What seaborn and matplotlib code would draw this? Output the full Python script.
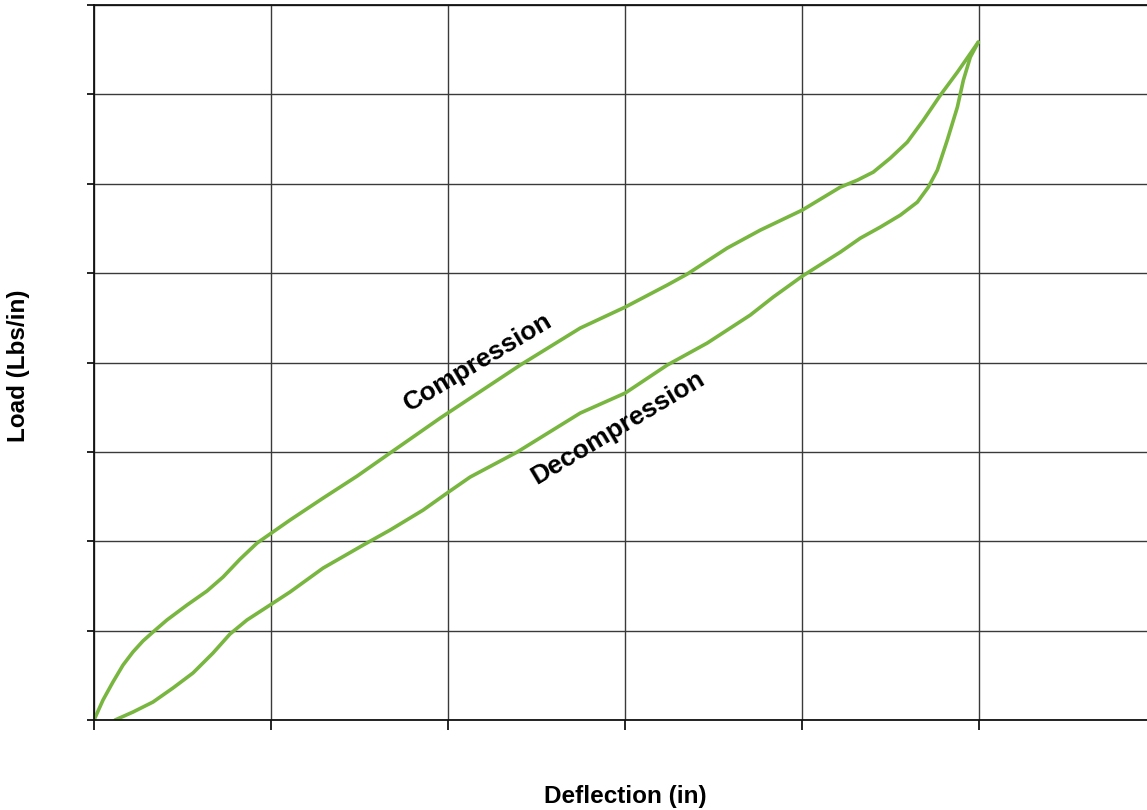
import matplotlib
matplotlib.use("Agg")
import matplotlib.pyplot as plt
import seaborn as sns
import pandas as pd

# Load-deflection hysteresis loop (deflection in inches, load in lbs/in)
compression_x = [0.000, 0.051, 0.107, 0.164, 0.220, 0.277, 0.333, 0.412, 0.525, 0.638,
                 0.729, 0.825, 0.921, 1.107, 1.294, 1.486, 1.672, 1.955, 2.407, 2.746,
                 3.000, 3.237, 3.350, 3.576, 3.763, 4.000, 4.215, 4.311, 4.401, 4.497,
                 4.593, 4.684, 4.780, 4.876, 4.994]
compression_y = [0.000, 0.224, 0.425, 0.615, 0.761, 0.885, 0.984, 1.119, 1.286, 1.443,
                 1.600, 1.800, 1.980, 2.237, 2.483, 2.729, 2.987, 3.378, 3.971, 4.385,
                 4.620, 4.866, 4.989, 5.280, 5.481, 5.705, 5.962, 6.040, 6.130, 6.286,
                 6.465, 6.711, 6.991, 7.248, 7.584]

decompression_x = [0.119, 0.220, 0.333, 0.446, 0.559, 0.672, 0.768, 0.864, 0.994, 1.107,
                   1.294, 1.520, 1.672, 1.859, 1.994, 2.124, 2.390, 2.746, 3.000, 3.237,
                   3.463, 3.706, 3.836, 4.000, 4.215, 4.328, 4.441, 4.554, 4.650, 4.712,
                   4.763, 4.819, 4.876, 4.910, 4.949, 4.994]
decompression_y = [0.000, 0.089, 0.201, 0.358, 0.526, 0.749, 0.962, 1.119, 1.286, 1.432,
                   1.700, 1.957, 2.125, 2.349, 2.539, 2.718, 2.998, 3.434, 3.658, 3.971,
                   4.217, 4.530, 4.732, 4.966, 5.235, 5.391, 5.515, 5.649, 5.794, 5.962,
                   6.152, 6.488, 6.857, 7.159, 7.416, 7.584]

x_ticks = [0, 1, 2, 3, 4, 5]
y_ticks = [0, 1, 2, 3, 4, 5, 6, 7, 8]

curve_labels = ["Compression", "Decompression"]
label_pos = [(2.17, 4.00), (2.96, 3.27)]

GREEN = "#78b640"
GRID = "#3a3a3a"

sns.set_theme(style="white")
plt.rcParams["font.family"] = ["Liberation Sans", "DejaVu Sans"]

fig = plt.figure(figsize=(11.47, 8.10), dpi=100)
ax = fig.add_axes([94 / 1147, 90 / 810, 1 - 94 / 1147 + 0.002, 715 / 810])

comp = pd.DataFrame({"x": compression_x, "y": compression_y})
decomp = pd.DataFrame({"x": decompression_x, "y": decompression_y})
for df in (comp, decomp):
    sns.lineplot(data=df, x="x", y="y", sort=False, ax=ax, color=GREEN, lw=2.6,
                 solid_capstyle="round", solid_joinstyle="round")

ax.set_xlim(0, 5.96)
ax.set_ylim(0, 8)
ax.set_xticks(x_ticks)
ax.set_yticks(y_ticks)
ax.set_xticklabels([])
ax.set_yticklabels([])
ax.set_xlabel("")
ax.set_ylabel("")
ax.grid(True, color=GRID, lw=1.0)
ax.set_axisbelow(True)

ax.tick_params(axis="x", direction="out", length=7, width=1.2, color="black", bottom=True)
ax.tick_params(axis="y", direction="out", length=5, width=1.2, color="black", left=True)

for side in ["left", "top", "bottom"]:
    ax.spines[side].set_visible(True)
    ax.spines[side].set_color("#111111")
    ax.spines[side].set_linewidth(1.3)
ax.spines["right"].set_visible(False)

# Axis titles placed in figure coordinates
fig.text(625 / 1147, 1 - 797 / 810, "Deflection (in)", fontsize=17.5, fontweight="bold",
         ha="center", va="center", color="black")
fig.text(19 / 1147, 1 - 366 / 810, "Load (Lbs/in)", fontsize=17.5, fontweight="bold",
         ha="center", va="center", rotation=90, color="black")

for text, (tx, ty) in zip(curve_labels, label_pos):
    ax.text(tx, ty, text, fontsize=19, fontweight="bold", rotation=31,
            rotation_mode="anchor", ha="center", va="center", color="black")

fig.savefig("out.png", dpi=100)
